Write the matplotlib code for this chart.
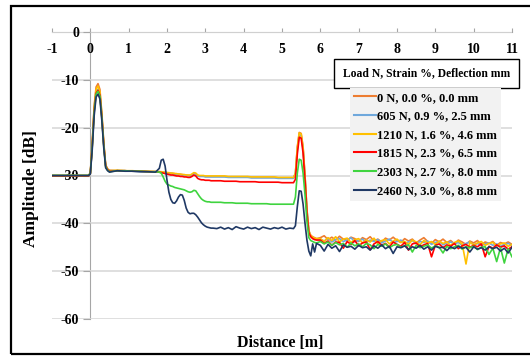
import matplotlib
matplotlib.use("Agg")
import matplotlib.pyplot as plt
from matplotlib.patches import Rectangle
from matplotlib.lines import Line2D

# ---------------- data ----------------
dist_pre = [-1.0, -0.05]
dist_peak1 = [0.0, 0.05, 0.1, 0.15, 0.2, 0.25, 0.3, 0.35, 0.4, 0.45, 0.5]
dist_mid = [0.7, 0.9, 1.1, 1.3, 1.5, 1.7, 1.8, 1.85, 1.9, 1.95, 2.0, 2.05, 2.1, 2.15,
            2.2, 2.25, 2.3, 2.35, 2.4, 2.45, 2.5, 2.55, 2.6, 2.65, 2.7, 2.75, 2.8,
            2.85, 2.9, 2.95, 3.0, 3.05, 3.1, 3.15, 3.2]
dist_flat = [3.3, 3.4, 3.5, 3.6, 3.7, 3.8, 3.9, 4.0, 4.1, 4.2, 4.3, 4.4, 4.5, 4.6,
             4.7, 4.8, 4.9, 5.0, 5.1, 5.2, 5.3]
dist_peak2 = [5.35, 5.4, 5.45, 5.5, 5.55, 5.6, 5.65, 5.7, 5.75, 5.8, 5.85, 5.9]
dist_noise = [6.0, 6.1, 6.2, 6.3, 6.4, 6.5, 6.6, 6.7, 6.8, 6.9,
              7.0, 7.1, 7.2, 7.3, 7.4, 7.5, 7.6, 7.7, 7.8, 7.9,
              8.0, 8.1, 8.2, 8.3, 8.4, 8.5, 8.6, 8.7, 8.8, 8.9,
              9.0, 9.1, 9.2, 9.3, 9.4, 9.5, 9.6, 9.7, 9.8, 9.9,
              10.0, 10.1, 10.2, 10.3, 10.4, 10.5, 10.6, 10.7, 10.8, 10.9, 11.0]
distance = dist_pre + dist_peak1 + dist_mid + dist_flat + dist_peak2 + dist_noise

labels = ["0 N, 0.0 %, 0.0 mm", "605 N, 0.9 %, 2.5 mm", "1210 N, 1.6 %, 4.6 mm",
          "1815 N, 2.3 %, 6.5 mm", "2303 N, 2.7 %, 8.0 mm", "2460 N, 3.0 %, 8.8 mm"]
legend_title = "Load N, Strain %, Deflection mm"

amp_0N = ([-30.0, -30.0]
          + [-29.5, -23.0, -15.5, -11.5, -10.8, -12.0, -17.0, -23.0, -27.8, -28.6, -28.9]
          + [-29.0, -29.0, -29.1, -29.1, -29.2, -29.2, -29.2, -29.3, -29.3, -29.4, -29.4, -29.5,
             -29.5, -29.6, -29.6, -29.7, -29.7, -29.8, -29.8, -29.9, -29.9, -30.0, -30.0, -29.8,
             -29.5, -29.6, -30.0, -30.1, -30.1, -30.1, -30.2, -30.2, -30.2, -30.2, -30.2]
          + [-30.2, -30.2, -30.2, -30.3, -30.3, -30.3, -30.3, -30.3, -30.3, -30.4, -30.4,
             -30.4, -30.4, -30.4, -30.4, -30.4, -30.5, -30.5, -30.5, -30.5, -30.5]
          + [-29.5, -24.0, -21.0, -21.2, -24.0, -30.0, -37.0, -41.5, -42.5, -42.8, -43.0, -43.2]
          + [-43.0, -42.6, -43.4, -42.9, -43.5, -42.7, -43.3, -43.6, -42.9, -43.2,
             -43.8, -43.0, -43.4, -42.8, -43.7, -43.3, -43.9, -43.1, -43.5, -42.9,
             -43.6, -44.0, -43.2, -43.7, -43.3, -44.1, -43.5, -43.0, -43.8, -44.2,
             -43.4, -43.9, -43.3, -44.0, -43.6, -44.3, -43.5, -43.9, -44.4, -43.7,
             -44.1, -43.6, -44.5, -43.9, -44.2, -43.8, -44.6, -44.0, -44.3, -43.9, -44.4])

amp_605N = ([-30.0, -30.0]
            + [-29.5, -23.5, -16.0, -12.5, -12.0, -13.0, -17.5, -23.5, -28.0, -28.7, -29.0]
            + [-29.0, -29.1, -29.1, -29.2, -29.2, -29.3, -29.3, -29.3, -29.4, -29.4, -29.5, -29.5,
               -29.6, -29.6, -29.7, -29.7, -29.8, -29.8, -29.9, -29.9, -30.0, -30.0, -30.1, -29.9,
               -29.6, -29.7, -30.1, -30.2, -30.2, -30.2, -30.3, -30.3, -30.3, -30.3, -30.3]
            + [-30.3, -30.3, -30.3, -30.4, -30.4, -30.4, -30.4, -30.4, -30.4, -30.5, -30.5,
               -30.5, -30.5, -30.5, -30.5, -30.5, -30.6, -30.6, -30.6, -30.6, -30.6]
            + [-29.6, -24.5, -21.5, -21.7, -24.5, -30.3, -37.2, -41.7, -42.7, -43.0, -43.2, -43.3]
            + [-43.3, -43.7, -43.1, -43.9, -43.4, -43.2, -43.8, -43.5, -43.0, -43.9,
               -43.6, -43.3, -44.0, -43.5, -43.8, -43.4, -44.1, -43.7, -43.3, -44.0,
               -43.8, -43.5, -44.2, -43.9, -43.6, -44.3, -43.8, -44.0, -43.7, -44.4,
               -44.0, -43.8, -44.5, -44.1, -43.9, -44.3, -44.0, -44.6, -44.2, -43.9,
               -44.5, -44.2, -44.7, -44.3, -44.1, -44.6, -44.3, -44.8, -44.4, -44.2, -44.6])

amp_1210N = ([-30.0, -30.0]
             + [-29.5, -23.3, -15.8, -12.0, -11.3, -12.5, -17.3, -23.3, -27.9, -28.7, -29.0]
             + [-28.9, -29.0, -29.0, -29.1, -29.1, -29.2, -29.2, -29.2, -29.3, -29.3, -29.4, -29.4,
                -29.5, -29.5, -29.6, -29.6, -29.7, -29.7, -29.8, -29.8, -29.9, -29.9, -29.9, -29.7,
                -29.4, -29.5, -29.9, -30.0, -30.0, -30.0, -30.1, -30.1, -30.1, -30.1, -30.1]
             + [-30.1, -30.1, -30.1, -30.2, -30.2, -30.2, -30.2, -30.2, -30.2, -30.3, -30.3,
                -30.3, -30.3, -30.3, -30.3, -30.3, -30.4, -30.4, -30.4, -30.4, -30.4]
             + [-29.6, -24.2, -21.1, -21.3, -24.2, -30.2, -37.2, -41.7, -42.6, -42.9, -43.1, -43.2]
             + [-43.2, -43.8, -43.0, -43.6, -42.8, -43.9, -43.3, -43.1, -44.0, -43.4,
                -43.2, -44.1, -43.5, -43.9, -43.1, -44.2, -43.6, -43.4, -44.3, -43.7,
                -43.3, -44.0, -43.8, -44.4, -43.5, -43.9, -44.5, -43.6, -44.1, -43.8,
                -44.4, -43.7, -44.2, -43.9, -44.6, -44.0, -43.7, -44.3, -48.5, -43.9,
                -44.5, -44.1, -43.8, -44.6, -44.2, -44.0, -44.7, -44.3, -44.1, -44.8, -44.4])

amp_1815N = ([-30.1, -30.1]
             + [-29.6, -23.8, -16.5, -12.8, -12.2, -13.2, -17.8, -23.6, -28.0, -28.8, -29.1]
             + [-29.0, -29.0, -29.1, -29.1, -29.2, -29.2, -29.3, -29.4, -29.5, -29.6, -29.7, -29.8,
                -29.9, -29.9, -30.0, -30.1, -30.1, -30.2, -30.2, -30.3, -30.3, -30.4, -30.4, -30.2,
                -29.9, -30.1, -30.6, -30.8, -30.9, -30.9, -31.0, -31.0, -31.0, -31.1, -31.1]
             + [-31.1, -31.1, -31.2, -31.2, -31.2, -31.2, -31.3, -31.3, -31.3, -31.3, -31.3,
                -31.4, -31.4, -31.4, -31.4, -31.4, -31.4, -31.5, -31.5, -31.5, -31.5]
             + [-30.8, -25.5, -22.0, -22.2, -25.3, -31.0, -37.8, -42.0, -42.8, -43.2, -43.4, -43.5]
             + [-43.5, -44.2, -43.7, -44.6, -43.9, -44.0, -45.2, -43.8, -44.4, -43.6,
                -44.7, -44.1, -43.9, -45.5, -44.3, -43.8, -44.6, -44.2, -45.0, -43.9,
                -44.4, -44.8, -44.0, -45.6, -44.3, -44.1, -44.9, -44.5, -44.2, -47.0,
                -44.6, -44.3, -45.1, -44.5, -44.8, -44.2, -45.3, -44.7, -44.4, -45.0,
                -44.6, -44.9, -44.3, -47.0, -44.8, -45.2, -44.5, -45.0, -44.7, -45.4, -44.9])

amp_2303N = ([-30.0, -30.0]
             + [-29.6, -24.0, -16.8, -13.0, -12.4, -13.4, -18.0, -23.8, -28.2, -28.9, -29.2]
             + [-29.0, -29.0, -29.1, -29.1, -29.2, -29.2, -29.3, -29.5, -30.3, -31.2, -31.8, -32.0,
                -32.2, -32.3, -32.5, -32.6, -32.7, -32.8, -32.9, -33.0, -33.2, -33.4, -33.5, -33.4,
                -33.1, -33.2, -33.8, -34.4, -34.9, -35.2, -35.4, -35.5, -35.5, -35.6, -35.6]
             + [-35.6, -35.6, -35.7, -35.7, -35.7, -35.8, -35.8, -35.8, -35.8, -35.9, -35.9,
                -35.9, -35.9, -35.9, -36.0, -36.0, -36.0, -36.0, -36.0, -36.0, -36.0]
             + [-34.5, -29.5, -26.6, -26.8, -29.5, -34.0, -39.5, -43.0, -43.6, -43.8, -44.0, -44.1]
             + [-43.8, -44.3, -43.9, -44.6, -44.0, -44.5, -44.2, -45.0, -44.1, -44.7,
                -44.3, -44.9, -44.2, -44.5, -45.3, -44.4, -44.8, -44.3, -45.1, -44.6,
                -44.4, -45.0, -44.7, -44.5, -46.0, -44.6, -45.1, -44.8, -44.5, -45.2,
                -44.7, -45.0, -46.2, -44.8, -45.3, -44.9, -44.6, -45.4, -44.9, -45.1,
                -44.8, -45.5, -45.0, -44.9, -46.5, -45.2, -48.0, -45.1, -48.3, -45.3, -47.0])

amp_2460N = ([-30.0, -30.0]
             + [-29.7, -24.5, -17.5, -13.6, -13.0, -14.0, -18.5, -24.2, -28.4, -29.0, -29.3]
             + [-29.0, -29.1, -29.1, -29.2, -29.2, -29.3, -28.5, -26.8, -26.6, -28.0, -31.0, -33.5,
                -35.0, -35.7, -35.8, -35.3, -34.5, -34.0, -34.1, -35.2, -36.8, -37.7, -38.0, -37.9,
                -37.9, -38.2, -38.7, -39.3, -39.9, -40.3, -40.6, -40.8, -40.9, -41.0, -41.0]
             + [-41.1, -40.8, -41.2, -40.9, -41.3, -40.7, -41.0, -41.2, -40.8, -41.1, -40.9,
                -41.3, -40.8, -41.0, -41.2, -40.9, -41.1, -40.8, -41.2, -41.0, -41.1]
             + [-40.5, -36.5, -33.2, -33.3, -36.0, -40.0, -43.5, -45.8, -46.8, -44.3, -46.0, -44.2]
             + [-44.6, -45.8, -44.4, -45.2, -44.7, -45.9, -44.5, -45.0, -44.8, -45.4,
                -44.6, -45.1, -44.9, -45.6, -44.7, -45.2, -44.5, -45.3, -44.8, -46.3,
                -44.9, -45.1, -44.7, -45.5, -44.9, -45.2, -44.6, -45.4, -44.9, -45.6,
                -44.8, -45.1, -45.0, -45.7, -44.9, -45.3, -44.8, -45.2, -45.0, -46.0,
                -44.9, -45.4, -45.1, -45.6, -44.9, -45.3, -45.0, -45.8, -45.2, -46.2, -45.0])

series = [amp_0N, amp_605N, amp_1210N, amp_1815N, amp_2303N, amp_2460N]
colors = ["#ED7D31", "#6FA8DC", "#FFC000", "#FF0000", "#3FD43F", "#1F3864"]

x_ticks = [-1, 0, 1, 2, 3, 4, 5, 6, 7, 8, 9, 10, 11]
y_ticks = [0, -10, -20, -30, -40, -50, -60]

# ---------------- plot ----------------
plt.rcParams["font.family"] = ["Liberation Serif", "DejaVu Serif"]
plt.rcParams["font.weight"] = "bold"
plt.rcParams["axes.unicode_minus"] = False

W, H = 530, 356
fig = plt.figure(figsize=(W / 100, H / 100), dpi=100)
fig.patch.set_facecolor("white")

ax = fig.add_axes([52 / W, 1 - 319 / H, 460 / W, 287 / H])
ax.set_xlim(-1, 11)
ax.set_ylim(-60, 0)

for s, c in zip(series, colors):
    ax.plot(distance, s, color=c, lw=1.2, solid_joinstyle="round")

ax.set_yticks(y_ticks)
ax.set_xticks(x_ticks)
ax.grid(axis="y", color="#d9d9d9", lw=1.2)
ax.set_axisbelow(True)

for sp in ["top", "right"]:
    ax.spines[sp].set_visible(False)
ax.spines["bottom"].set_position(("data", 0))
ax.spines["left"].set_position(("data", 0))
ax.spines["bottom"].set_color("#a6a6a6")
ax.spines["left"].set_color("#a6a6a6")
ax.spines["bottom"].set_zorder(0.5)
ax.spines["left"].set_zorder(0.5)

ax.tick_params(axis="x", direction="in", length=3, color="#a6a6a6", pad=8,
               labelsize=10)
ax.tick_params(axis="y", direction="out", length=5, color="#a6a6a6", pad=3,
               labelsize=10)
for lbl in ax.get_xticklabels() + ax.get_yticklabels():
    lbl.set_fontweight("bold")

fig.text(280 / W, 1 - 343 / H, "Distance [m]", ha="center", va="center",
         fontsize=11.5, fontweight="bold")
fig.text(31 / W, 1 - 189 / H, "Amplitude [dB]", ha="center", va="center",
         rotation=90, fontsize=12.5, fontweight="bold")

# legend
handles = [Line2D([], [], color=c, lw=1.5) for c in colors]
leg = fig.legend(handles, labels, loc="upper left",
                 bbox_to_anchor=(350 / W, 1 - 88 / H), borderaxespad=0,
                 frameon=True, fancybox=False, facecolor="#f2f2f2",
                 edgecolor="none", framealpha=1,
                 handlelength=1.75, handletextpad=0.1, labelspacing=0.53,
                 borderpad=0.3, prop={"weight": "bold", "size": 9})
fig.add_artist(Rectangle((334 / W, 1 - 88 / H), 185 / W, 29 / H,
                         transform=fig.transFigure, facecolor="white",
                         edgecolor="black", lw=1.0))
fig.text(426.5 / W, 1 - 73.5 / H, legend_title, ha="center", va="center",
         fontsize=8.4, fontweight="bold")

# outer frame
fig.add_artist(Rectangle((11 / W, 1 - 354 / H), 540 / W, 348 / H,
                         transform=fig.transFigure, facecolor="none",
                         edgecolor="black", lw=1.6))

fig.savefig("out.png", dpi=100)
